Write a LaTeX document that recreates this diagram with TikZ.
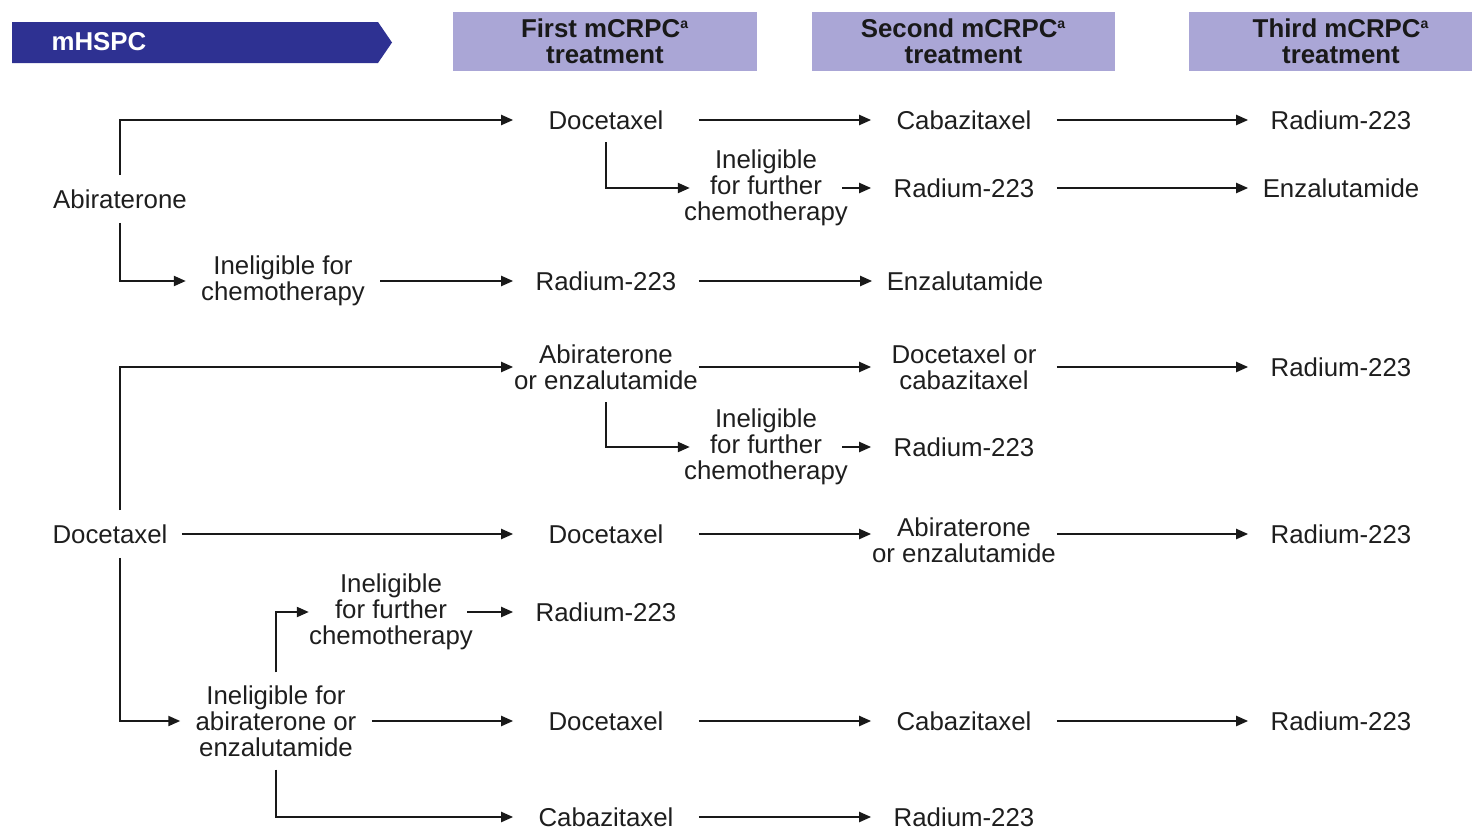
\documentclass[tikz,border=0pt]{standalone}
\usepackage{fontspec}
\setmainfont{Liberation Sans}
\usepackage{tikz}
\usetikzlibrary{arrows.meta,positioning,calc}

\definecolor{bannerBlue}{RGB}{46,49,146}
\definecolor{headLilac}{RGB}{170,166,214}
\definecolor{inkGray}{RGB}{30,30,30}

\newcommand{\supA}{\textsuperscript{\fontsize{8}{8}\selectfont a}}

\begin{document}
\begin{tikzpicture}[
    x=0.02cm, y=-0.02cm,
    font=\fontsize{14.7}{14.9}\selectfont,
    txtNode/.style={
        rectangle, align=center, inner xsep=0.3cm, inner ysep=0.25cm, text=inkGray
    },
    colNode/.style={
        txtNode, inner xsep=0pt, minimum width=3.7cm
    },
    furNode/.style={
        txtNode, inner xsep=0pt
    },
    leftNode/.style={
        txtNode, inner xsep=0.28cm, inner ysep=0.28cm
    },
    headBox/.style={
        rectangle, fill=headLilac, minimum width=6.08cm, minimum height=1.18cm,
        align=center, text=black!90, font=\fontsize{14.7}{14.9}\selectfont\bfseries
    },
    flowArrow/.style={
        -{Triangle[length=0.24cm, width=0.2cm]}, line width=1.2pt, draw=black!90
    }
]

\clip (0,0) rectangle (1472,829);

% Header row
\fill[bannerBlue] (12,22) -- (378,22) -- (392,42.5) -- (378,63) -- (12,63) -- cycle;
\node[text=white, font=\fontsize{14.7}{14.9}\selectfont\bfseries] (hspc) at (99,42) {mHSPC};
\node[headBox] (hdFirst) at (605,41.5) {First mCRPC\supA\\treatment};
\node[headBox] (hdSecond) at (963.5,41.5) {Second mCRPC\supA\\treatment};
\node[headBox] (hdThird) at (1341,41.5) {Third mCRPC\supA\\treatment};

% mHSPC agents
\node[leftNode] (abi) at (120,199) {Abiraterone};
\node[leftNode] (doc) at (110,534) {Docetaxel};

% Ineligibility steps
\node[txtNode] (inChemo) at (283,281) {Ineligible for\\chemotherapy};
\node[txtNode] (inAbi) at (276,721) {Ineligible for\\abiraterone or\\enzalutamide};
\node[furNode] (inFurC) at (391,612) {Ineligible\\for further\\chemotherapy};
\node[furNode] (f2) at (766,188) {Ineligible\\for further\\chemotherapy};
\node[furNode] (f5) at (766,447) {Ineligible\\for further\\chemotherapy};

% First line
\node[colNode] (a1) at (606,120) {Docetaxel};
\node[colNode] (a3) at (606,281) {Radium-223};
\node[colNode] (a4) at (606,367) {Abiraterone\\or enzalutamide};
\node[colNode] (a6) at (606,534) {Docetaxel};
\node[colNode] (a7) at (606,612) {Radium-223};
\node[colNode] (a8) at (606,721) {Docetaxel};
\node[colNode] (a9) at (606,817) {Cabazitaxel};

% Second line
\node[colNode] (b1) at (964,120) {Cabazitaxel};
\node[colNode] (b2) at (964,188) {Radium-223};
\node[colNode] (b3) at (965,281) {Enzalutamide};
\node[colNode] (b4) at (964,367) {Docetaxel or\\cabazitaxel};
\node[colNode] (b5) at (964,447) {Radium-223};
\node[colNode] (b6) at (964,540) {Abiraterone\\or enzalutamide};
\node[colNode] (b8) at (964,721) {Cabazitaxel};
\node[colNode] (b9) at (964,817) {Radium-223};

% Third line
\node[colNode] (c1) at (1341,120) {Radium-223};
\node[colNode] (c2) at (1341,188) {Enzalutamide};
\node[colNode] (c4) at (1341,367) {Radium-223};
\node[colNode] (c6) at (1341,534) {Radium-223};
\node[colNode] (c8) at (1341,721) {Radium-223};

% Abiraterone flows
\draw[flowArrow] (abi.north) |- (a1.west);
\draw[flowArrow] (a1.east) -- (b1.west);
\draw[flowArrow] (b1.east) -- (c1.west);
\draw[flowArrow] (a1.south) |- ([xshift=0.12cm]f2.west);
\draw[flowArrow] ([xshift=-0.12cm]f2.east) -- (b2.west);
\draw[flowArrow] (b2.east) -- (c2.west);
\draw[flowArrow] (abi.south) |- (inChemo.west);
\draw[flowArrow] (inChemo.east) -- (a3.west);
\draw[flowArrow] (a3.east) -- (b3.west);

% Docetaxel flows
\draw[flowArrow] (doc.north -| abi.south) |- (a4.west);
\draw[flowArrow] (a4.east) -- (b4.west);
\draw[flowArrow] (b4.east) -- (c4.west);
\draw[flowArrow] (a4.south) |- ([xshift=0.12cm]f5.west);
\draw[flowArrow] ([xshift=-0.12cm]f5.east) -- (b5.west);
\draw[flowArrow] (doc.east) -- (a6.west);
\draw[flowArrow] (a6.east) -- (a6.east -| b6.west);
\draw[flowArrow] (c6.west -| b6.east) -- (c6.west);
\draw[flowArrow] (doc.south -| abi.south) |- (inAbi.west);
\draw[flowArrow] (inAbi.north) |- (inFurC.west);
\draw[flowArrow] ([xshift=-0.12cm]inFurC.east) -- (a7.west);
\draw[flowArrow] (inAbi.east) -- (a8.west);
\draw[flowArrow] (a8.east) -- (b8.west);
\draw[flowArrow] (b8.east) -- (c8.west);
\draw[flowArrow] (inAbi.south) |- (a9.west);
\draw[flowArrow] (a9.east) -- (b9.west);

\end{tikzpicture}
\end{document}
